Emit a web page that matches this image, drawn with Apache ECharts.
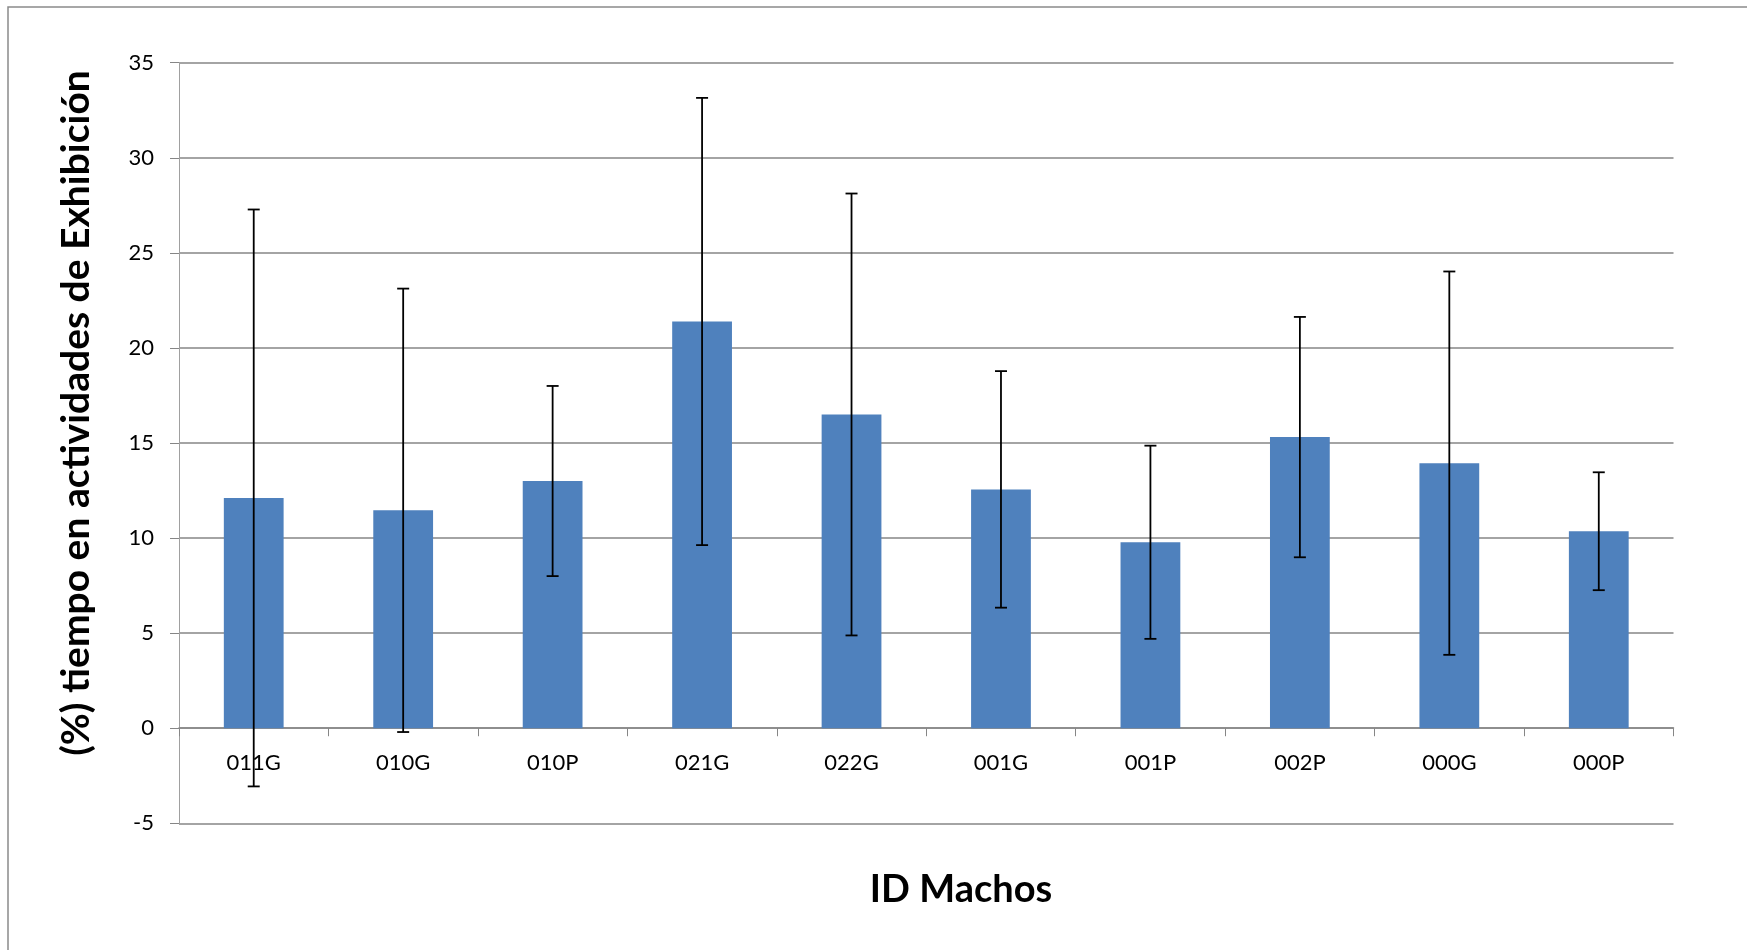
<!DOCTYPE html>
<html>
<head>
<meta charset="utf-8">
<script src="https://cdn.jsdelivr.net/npm/echarts@6/dist/echarts.min.js"></script>
<style>
html,body{margin:0;padding:0;background:#fff;}
#chart{width:1747px;height:950px;}
</style>
</head>
<body>
<div id="chart"></div>
<script>
const categories = ['011G','010G','010P','021G','022G','001G','001P','002P','000G','000P'];
const means = [12.11, 11.46, 13.0, 21.39, 16.5, 12.56, 9.78, 15.31, 13.94, 10.36];
const errors = [15.17, 11.66, 5.0, 11.76, 11.62, 6.22, 5.08, 6.32, 10.08, 3.1];
const yTicks = { min: -5, max: 35, interval: 5 };
const yTitle = '(%) tiempo en actividades de Exhibición';
const xTitle = 'ID Machos';

const errData = categories.map((c, i) => [i, means[i] - errors[i], means[i] + errors[i]]);

const chart = echarts.init(document.getElementById('chart'), null, {renderer: 'canvas'});
const font = 'Lato, "Open Sans", sans-serif';
chart.setOption({
  animation: false,
  backgroundColor: '#ffffff',
  grid: { left: 179, right: 73.5, top: 62.7, bottom: 126.7, containLabel: false },
  title: {
    text: xTitle,
    left: 956, top: 866,
    textAlign: 'center',
    textStyle: { fontFamily: font, fontWeight: 'bold', fontSize: 38, color: '#000' }
  },
  graphic: [
    { type: 'rect', shape: { x: 8, y: 7, width: 1800, height: 1000 },
      style: { fill: 'none', stroke: '#8a8a8a', lineWidth: 1.5 }, silent: true, z: -1 },
    { type: 'text', x: 76, y: 413, rotation: Math.PI / 2,
      style: { text: yTitle, fontFamily: font, fontWeight: 'bold', fontSize: 39, fill: '#000',
               align: 'center', verticalAlign: 'middle' } }
  ],
  xAxis: {
    type: 'category',
    data: categories,
    axisLine: { onZero: true, lineStyle: { color: '#868686', width: 1.5 } },
    axisTick: { show: true, length: 8, lineStyle: { color: '#868686', width: 1 } },
    axisLabel: { fontFamily: font, fontSize: 22, color: '#000', margin: -71 },
    splitLine: { show: false }
  },
  yAxis: {
    type: 'value',
    min: yTicks.min, max: yTicks.max, interval: yTicks.interval,
    axisLine: { show: true, lineStyle: { color: '#a0a0a0', width: 1 } },
    axisTick: { show: true, length: 9, lineStyle: { color: '#868686', width: 1 } },
    axisLabel: { fontFamily: font, fontSize: 22, color: '#000', margin: 25 },
    splitLine: { show: true, lineStyle: { color: '#868686', width: 1.5 } }
  },
  series: [
    {
      type: 'bar',
      data: means,
      barWidth: '40%',
      itemStyle: { color: '#4f81bd' },
      z: 2
    },
    {
      type: 'custom',
      data: errData,
      z: 5,
      renderItem: function (params, api) {
        const x = api.value(0);
        const lo = api.coord([x, api.value(1)]);
        const hi = api.coord([x, api.value(2)]);
        const cap = 6;
        const st = { stroke: '#000', lineWidth: 1.8 };
        return {
          type: 'group',
          children: [
            { type: 'line', shape: { x1: hi[0], y1: hi[1], x2: lo[0], y2: lo[1] }, style: st },
            { type: 'line', shape: { x1: hi[0] - cap, y1: hi[1], x2: hi[0] + cap, y2: hi[1] }, style: st },
            { type: 'line', shape: { x1: lo[0] - cap, y1: lo[1], x2: lo[0] + cap, y2: lo[1] }, style: st }
          ]
        };
      }
    }
  ]
});
</script>
</body>
</html>
